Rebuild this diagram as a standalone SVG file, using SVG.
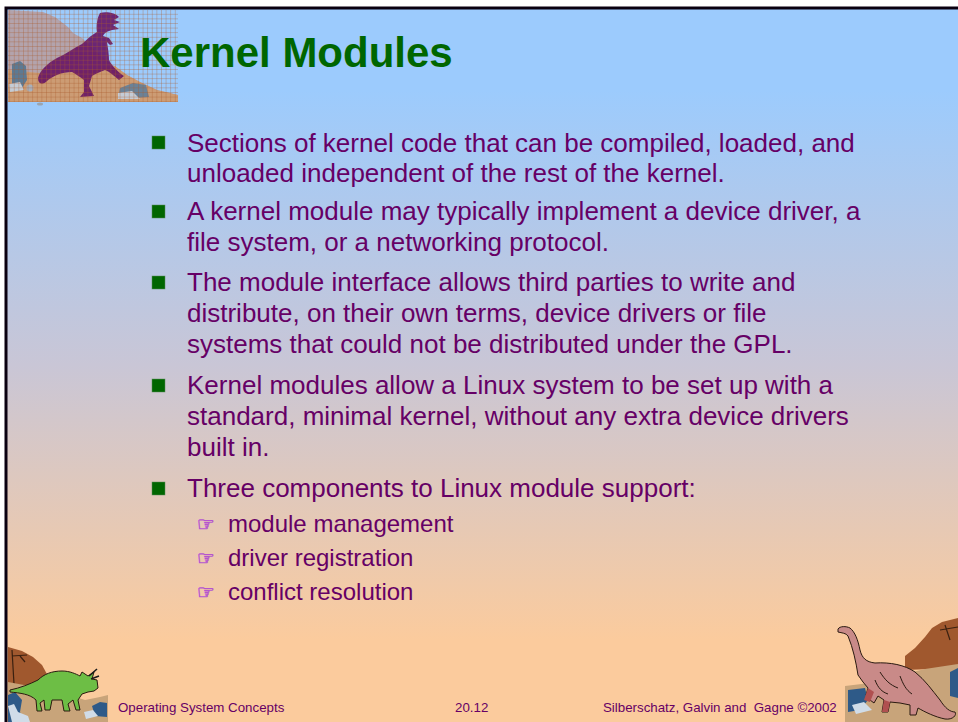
<svg xmlns="http://www.w3.org/2000/svg" width="958" height="722" viewBox="0 0 958 722">
<style>
.body{font-family:"Liberation Sans",Arial,sans-serif;font-size:26px;fill:#660066}
.sub{font-family:"Liberation Sans",Arial,sans-serif;font-size:24px;fill:#660066}
.foot{font-family:"Liberation Sans",Arial,sans-serif;font-size:13.3px;fill:#660066}
.title{font-family:"Liberation Sans",Arial,sans-serif;font-size:42px;font-weight:bold;fill:#006600}
.hand{font-family:"DejaVu Sans",sans-serif;font-size:20px;fill:#F0D6F6;stroke:#B555CC;stroke-width:0.8}
.bul{fill:#006600;stroke:#5A8A5A;stroke-width:0.5}
.ink{stroke:#2A1A10;stroke-width:1;stroke-linejoin:round}
</style>
<defs>
<linearGradient id="bg" gradientUnits="userSpaceOnUse" x1="0" y1="90" x2="0" y2="640">
<stop offset="0" stop-color="#9CCBFD"/>
<stop offset="0.5" stop-color="#C9C6D6"/>
<stop offset="1" stop-color="#FBCB9D"/>
</linearGradient>
<pattern id="grid" patternUnits="userSpaceOnUse" width="4.6" height="4.6">
<path d="M0,0H4.6M0,0V4.6" stroke="#A85A2A" stroke-width="0.8" fill="none" opacity="0.75"/>
</pattern>
</defs>

<rect x="0" y="0" width="958" height="722" fill="#FFFFFF"/>
<rect x="6" y="8" width="952" height="714" fill="url(#bg)"/>
<path d="M6,722V8H958" fill="none" stroke="#0A0010" stroke-width="3"/>

<g id="art-top-left">
<path d="M8,10 L43,12 L55,17 L68,27 L73,33 L82,38 L100,55 L110,63 L127,75 L140,82 L157,90 L178,95 L178,102 L8,102 Z" fill="#B3A3AC"/>
<path d="M8,70 L50,74 L90,70 L115,66 L127,75 L140,82 L157,90 L178,95 L178,102 L8,102 Z" fill="#CC9C74"/>
<path d="M12,64 L20,61 L26,66 L27,80 L22,88 L12,90 Z" fill="#5C7A94"/>
<path d="M9,84 L20,82 L24,90 L10,92 Z" fill="#C4CCD6"/>
<circle cx="30" cy="88" r="3.5" fill="#A8B0BC"/>
<path d="M120,88 L133,83 L146,85 L149,97 L118,99 Z" fill="#6A8298"/>
<path d="M118,93 L132,91 L140,99 L118,99 Z" fill="#C4CCD6"/>
<path d="M100,13 C106,11 116,13 119,17 L114,20 L120,22 L113,25 L119,29 L112,30 C108,31 104,33 103,36 L109,38 L113,44 L110,45 L107,42 C108,48 109,55 109,60 C112,66 118,72 124,76 L119,80 C114,76 110,72 105,70 C100,72 95,74 92,76 L89,86 L94,96 L80,97 L84,92 L84,80 C80,77 76,74 72,72 C62,72 52,76 46,82 C42,85 38,84 38,78 C40,70 48,63 57,58 C66,54 74,48 82,44 C88,38 93,34 97,32 C96,26 97,18 100,13 Z" fill="#661466" opacity="0.9"/>
<rect x="8" y="10" width="170" height="92" fill="url(#grid)"/>
<ellipse cx="40" cy="104" rx="3" ry="1.5" fill="#9AA4B0"/>
</g>

<g id="title">
<text class="title" x="140" y="67">Kernel Modules</text>
</g>

<g id="bullets">
<rect class="bul" x="152" y="136" width="13" height="13"/>
<text class="body" x="187" y="152">Sections of kernel code that can be compiled, loaded, and</text>
<text class="body" x="187" y="182">unloaded independent of the rest of the kernel.</text>
<rect class="bul" x="152" y="205" width="13" height="13"/>
<text class="body" x="187" y="220">A kernel module may typically implement a device driver, a</text>
<text class="body" x="187" y="251">file system, or a networking protocol.</text>
<rect class="bul" x="152" y="276" width="13" height="13"/>
<text class="body" x="187" y="291">The module interface allows third parties to write and</text>
<text class="body" x="187" y="322">distribute, on their own terms, device drivers or file</text>
<text class="body" x="187" y="353">systems that could not be distributed under the GPL.</text>
<rect class="bul" x="152" y="379" width="13" height="13"/>
<text class="body" x="187" y="394">Kernel modules allow a Linux system to be set up with a</text>
<text class="body" x="187" y="425">standard, minimal kernel, without any extra device drivers</text>
<text class="body" x="187" y="456">built in.</text>
<rect class="bul" x="152" y="482" width="13" height="13"/>
<text class="body" x="187" y="497">Three components to Linux module support:</text>
</g>

<g id="sub-bullets">
<text class="hand" x="197" y="531">☞</text>
<text class="sub" x="228" y="532">module management</text>
<text class="hand" x="197" y="565">☞</text>
<text class="sub" x="228" y="566">driver registration</text>
<text class="hand" x="197" y="599">☞</text>
<text class="sub" x="228" y="600">conflict resolution</text>
</g>

<g id="art-bottom-left">
<path d="M8,647 L22,651 L33,657 L42,665 L48,676 L50,685 L8,688 Z" fill="#A0582E"/>
<path d="M12,650 L14,684 M12,656 L27,655 M20,656 L25,662" fill="none" stroke="#3A2010" stroke-width="1.2"/>
<path d="M8,682 L40,688 L60,692 L85,700 L100,697 L108,695 L108,722 L8,722 Z" fill="#C8A47A"/>
<path d="M8,695 L15,692 L22,700 L20,712 L24,722 L8,722 Z" fill="#2E5A88"/>
<path d="M8,706 L14,704 L18,712 L28,716 L30,722 L12,722 Z" fill="#D0DCE8"/>
<path d="M92,706 L100,702 L107,703 L107,717 L95,716 Z" fill="#2E5A88"/>
<path d="M84,712 L93,710 L98,716 L86,719 Z" fill="#D0DCE8"/>
<path class="ink" d="M10,690 C20,688 30,684 38,680 C44,674 52,671 62,671 C70,671 76,674 80,676 L82,672 L88,676 L94,672 L92,679 L97,680 L98,688 L94,691 L88,692 L82,694 L78,700 L80,710 L76,710 L73,700 L68,704 L70,711 L64,711 L62,700 L52,700 L50,710 L45,710 L44,700 L40,703 L42,711 L37,711 L36,700 C30,694 20,693 10,692 Z" fill="#6DBE45"/>
<path d="M89,676 L97,669 M91,679 L99,676" stroke="#1A1A1A" stroke-width="1.6"/>
</g>

<g id="footer">
<text class="foot" x="118" y="712">Operating System Concepts</text>
<text class="foot" x="455" y="712">20.12</text>
<text class="foot" x="603" y="712" xml:space="preserve">Silberschatz, Galvin and  Gagne ©2002</text>
</g>

<g id="art-bottom-right">
<path d="M905,656 L915,648 L925,637 L932,628 L942,622 L958,618 L958,668 L905,670 Z" fill="#A0582E"/>
<path d="M945,625 L950,640 M940,630 L958,627" fill="none" stroke="#3A2010" stroke-width="1.2"/>
<path d="M845,686 L870,683 L900,675 L925,669 L958,664 L958,722 L845,722 Z" fill="#C8A47A"/>
<path d="M848,690 L865,688 L868,700 L860,710 L848,712 Z" fill="#2E5A88"/>
<path d="M852,705 L864,702 L872,710 L856,714 Z" fill="#D0DCE8"/>
<path d="M950,672 L958,668 L958,698 L950,696 Z" fill="#2E5A88"/>
<path class="ink" d="M838,629 C840,626 846,626 850,628 C855,632 858,640 860,650 C862,658 866,662 875,663 C890,662 905,665 915,672 C925,680 932,690 940,700 C945,708 950,712 955,712 C957,715 953,720 945,719 C935,717 925,712 918,708 L916,715 L910,715 L910,705 L900,703 L890,702 L888,712 L882,712 L884,700 L878,696 L874,703 L870,700 L866,695 L868,688 L863,682 L858,675 C856,662 853,648 848,636 C846,633 842,633 838,632 Z" fill="#C98A88"/>
<path d="M868,688 L864,700 L870,702 L874,692 Z M884,700 L882,712 L888,712 L890,702 Z" fill="#B05050"/>
<path d="M880,672 C885,680 890,685 898,688 M900,676 C903,684 906,690 912,694 M875,680 C878,688 882,692 888,694" fill="none" stroke="#2A1A10" stroke-width="1"/>
</g>
</svg>
